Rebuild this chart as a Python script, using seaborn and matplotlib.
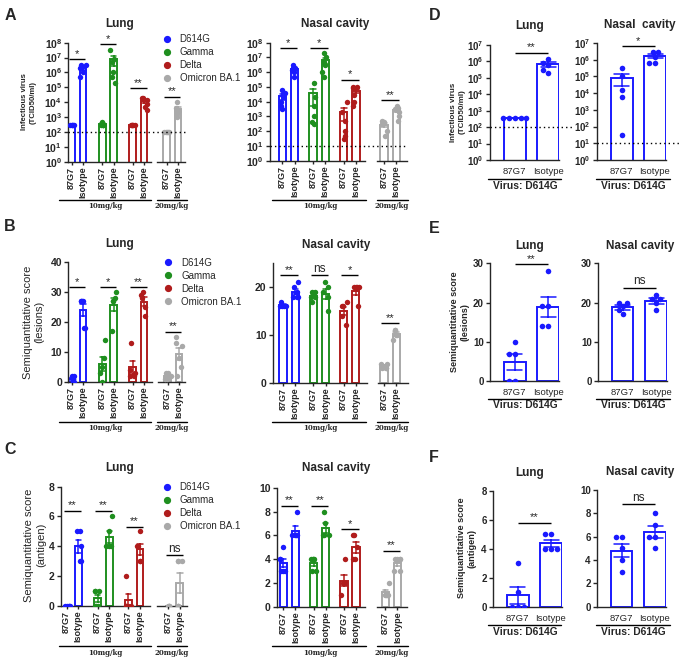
import warnings
import numpy as np
import pandas as pd
import matplotlib
matplotlib.use("Agg")
import matplotlib.pyplot as plt
import matplotlib.transforms as mtransforms
from matplotlib.lines import Line2D
from matplotlib.ticker import NullLocator
import seaborn as sns

warnings.filterwarnings("ignore")

# ------------------------------------------------------------------ data
VARIANTS = ["D614G", "Gamma", "Delta", "Omicron BA.1"]
TREATMENTS = ["87G7", "Isotype"]
DOSES = ["10mg/kg", "20mg/kg"]

# Panel A: infectious virus (TCID50/ml); one list per variant (D614G, Gamma, Delta, Omicron BA.1)
A_LUNG_87G7 = [[316, 316, 316, 316, 316], [500, 316, 316, 316, 316],
               [316, 316, 316, 316, 316], [100, 100, 100, 100, 100]]
A_LUNG_ISO = [[3e6, 3e6, 2.5e6, 2e6, 1e6, 5e5], [3e7, 8e6, 5e6, 1e6, 5e5, 2e5],
              [2e4, 2e4, 1.5e4, 8e3, 5e3, 3e3], [1e4, 4e3, 3e3, 2.5e3, 1.5e3, 1e3]]
A_LUNG_SIG = ["*", "*", "**", "**"]
A_LUNG_SIG_Y = [7.9e6, 8e7, 8.5e4, 2.3e4]

A_NASAL_87G7 = [[6e4, 4e4, 2e4, 1e4, 5e3, 3e3], [2e5, 2e4, 5e3, 1e3, 4e2, 3e2],
                [1e4, 2e3, 5e2, 1e2, 50, 30], [5e2, 4e2, 3e2, 1e2, 50]]
A_NASAL_ISO = [[3e6, 2e6, 2e6, 1.5e6, 1e6, 5e5], [2e7, 1e7, 5e6, 3e6, 1e6, 5e5],
               [1e5, 1e5, 8e4, 3e4, 1e4, 5e3], [5e3, 4e3, 3e3, 2e3, 1e3, 5e2]]
A_NASAL_SIG = ["*", "*", "*", "**"]
A_NASAL_SIG_Y = [4.2e7, 4.2e7, 3e5, 1.3e4]

# Panel B: semiquantitative score (lesions)
B_LUNG_87G7 = [[2, 2, 1, 1, 0, 0], [14, 8, 5, 3, 0], [13, 4, 3, 2, 2], [3, 3, 2, 2, 1, 1]]
B_LUNG_ISO = [[27, 27, 27, 27, 18, 18], [30, 28, 27, 27, 17], [30, 29, 28, 25, 22],
              [15, 13, 12, 8, 5, 2]]
B_LUNG_SIG = ["*", "*", "**", "**"]
B_LUNG_SIG_Y = [31.7, 31.7, 31.7, 16.7]

B_NASAL_87G7 = [[17, 16, 16, 16, 16], [19, 19, 18, 18, 17], [17, 16, 16, 14, 12], [4, 4, 3, 3, 3]]
B_NASAL_ISO = [[21, 20, 19, 18, 18, 18], [21, 20, 19, 18, 15], [20, 20, 20, 20, 16],
               [11, 11, 10, 10, 9]]
B_NASAL_SIG = ["**", "ns", "*", "**"]
B_NASAL_SIG_Y = [22.5, 22.5, 22.5, 12.4]

# Panel C: semiquantitative score (antigen)
C_LUNG_87G7 = [[0, 0, 0, 0, 0], [1, 1, 1, 0, 0, 0], [2, 0, 0, 0, 0], [0, 0, 0, 0]]
C_LUNG_ISO = [[5, 5, 4, 3, 3], [6, 5, 4, 4, 4], [5, 4, 4, 3, 3], [3, 3, 3, 0, 0, 0]]
C_LUNG_SIG = ["**", "**", "**", "ns"]
C_LUNG_SIG_Y = [6.4, 6.4, 5.3, 3.4]

C_NASAL_87G7 = [[5, 4, 4, 3, 3, 3], [4, 4, 4, 4, 3, 3], [4, 2, 2, 1, 2], [2, 1, 1, 1, 1]]
C_NASAL_ISO = [[8, 6, 6, 6, 6], [8, 7, 6, 6, 6], [6, 6, 5, 4, 4], [4, 4, 4, 4, 3, 3]]
C_NASAL_SIG = ["**", "**", "*", "**"]
C_NASAL_SIG_Y = [8.5, 8.5, 6.5, 4.7]

# Panels D-F: D614G only (87G7, Isotype)
D_LUNG = [[350, 350, 350, 350, 350], [1.5e6, 8e5, 6e5, 3e5, 2e5]]
D_NASAL = [[3e5, 1e5, 1.5e4, 6e3, 30], [3e6, 3e6, 1.5e6, 6e5, 6e5]]
E_LUNG = [[10, 7, 7, 0, 0], [28, 19, 19, 14, 14]]
E_NASAL = [[20, 20, 19, 18, 17], [22, 21, 21, 20, 18]]
F_LUNG = [[3, 1, 0, 0, 0], [5, 5, 4, 4, 4]]
F_NASAL = [[6, 6, 5, 4, 3], [8, 7, 6, 6, 5]]
DEF_SIG = ["**", "*", "**", "ns", "**", "ns"]
DEF_SIG_Y = [3.4e6, 6.3e6, 29.7, 23.8, 5.8, 8.8]

COLORS = {"D614G": "#1a1aff", "Gamma": "#1f8f1f", "Delta": "#b01c1c", "Omicron BA.1": "#a9a9a9"}

# ------------------------------------------------------------------ style
sns.set_theme(style="ticks")
plt.rcParams["font.family"] = ["Liberation Sans", "DejaVu Sans"]
plt.rcParams["mathtext.fontset"] = "custom"
plt.rcParams["mathtext.rm"] = "Liberation Sans"
plt.rcParams["mathtext.bf"] = "Liberation Sans:bold"
plt.rcParams["axes.linewidth"] = 1.0
plt.rcParams["xtick.major.width"] = 1.0
plt.rcParams["ytick.major.width"] = 1.0

W, H = 691, 666
fig = plt.figure(figsize=(W / 100, H / 100), dpi=100)
np.random.seed(3)


def frect(x0, x1, yt, yb):
    return [x0 / W, 1 - yb / H, (x1 - x0) / W, (yb - yt) / H]


def fx(x):
    return x / W


def fy(y):
    return 1 - y / H


def hline_fig(x0, x1, y, lw=1.0):
    fig.add_artist(Line2D([fx(x0), fx(x1)], [fy(y), fy(y)], color="black", lw=lw,
                          transform=fig.transFigure))


def ftext(x, y, s, **kw):
    kw.setdefault("ha", "center")
    kw.setdefault("va", "center")
    fig.text(fx(x), fy(y), s, **kw)


def add_sig(ax, x0, x1, y, txt):
    ax.plot([x0, x1], [y, y], color="black", lw=1.0, clip_on=False, solid_capstyle="butt")
    fs = 8.5 if txt == "ns" else 8
    ax.annotate(txt, xy=((x0 + x1) / 2, y), xytext=(0, 0.3), textcoords="offset points",
                ha="center", va="bottom", fontsize=fs, annotation_clip=False)


def draw_bars(ax, sub, color, width, jitter, swarm=False):
    sns.barplot(data=sub, x="pos", y="value", native_scale=True, color=color, fill=False,
                width=width, linewidth=1.4, errorbar="se", capsize=0.45,
                err_kws={"color": color, "linewidth": 1.1}, ax=ax)
    if swarm:
        sns.swarmplot(data=sub, x="pos", y="value", native_scale=True, color=color, size=4.0,
                      linewidth=0, ax=ax, zorder=3)
    else:
        sns.stripplot(data=sub, x="pos", y="value", native_scale=True, color=color, size=3.9,
                      jitter=jitter, linewidth=0, ax=ax, zorder=3)


def style_y(ax, log, ylim, yticks, fs):
    if log:
        ax.set_yscale("log")
        ax.set_yticks(yticks)
        ax.set_yticklabels([r"$\mathbf{10^{%d}}$" % int(round(np.log10(t))) for t in yticks])
        ax.yaxis.set_minor_locator(NullLocator())
    else:
        ax.set_yticks(yticks)
        ax.set_yticklabels([str(t) for t in yticks])
    ax.set_ylim(*ylim)
    for lab in ax.get_yticklabels():
        lab.set_fontweight("bold")
        lab.set_fontsize(fs)


def variant_panel(main_r, omi_r, offsets, main_xlim, omi_xlim, v87, viso, log, ylim, yticks,
                  sig_txt, sig_y, lod=None):
    ax = fig.add_axes(frect(*main_r))
    axo = fig.add_axes(frect(*omi_r))
    rows = []
    for vi, v in enumerate(VARIANTS):
        base = offsets[vi] if vi < 3 else 0.0
        for ti, vals in enumerate([v87[vi], viso[vi]]):
            for val in vals:
                rows.append({"variant": v, "treatment": TREATMENTS[ti], "value": val,
                             "pos": base + ti})
    df = pd.DataFrame(rows)
    for vi, v in enumerate(VARIANTS):
        target = ax if vi < 3 else axo
        draw_bars(target, df[df["variant"] == v], COLORS[v], 0.6, 0.28)
    for a, xl in ((ax, main_xlim), (axo, omi_xlim)):
        style_y(a, log, ylim, yticks, 7.5)
        a.set_xlim(*xl)
        a.set_xlabel("")
        a.set_ylabel("")
        a.spines[["top", "right"]].set_visible(False)
        a.tick_params(axis="x", length=2.5, pad=1)
        a.tick_params(axis="y", length=3, pad=1.5)
    ax.set_xticks([offsets[i] + t for i in range(3) for t in (0, 1)])
    ax.set_xticklabels(TREATMENTS * 3, rotation=90, fontsize=6.5, fontweight="bold")
    axo.set_xticks([0, 1])
    axo.set_xticklabels(TREATMENTS, rotation=90, fontsize=6.5, fontweight="bold")
    axo.spines["left"].set_visible(False)
    axo.tick_params(axis="y", which="both", left=False, labelleft=False)
    for vi in range(4):
        target = ax if vi < 3 else axo
        base = offsets[vi] if vi < 3 else 0.0
        add_sig(target, base - 0.22, base + 1.22, sig_y[vi], sig_txt[vi])
    if lod is not None:
        tr = mtransforms.blended_transform_factory(fig.transFigure, ax.transData)
        fig.add_artist(Line2D([fx(main_r[0]), fx(omi_r[1])], [lod, lod], transform=tr,
                              color="black", lw=1.0, ls=(0, (1, 2.2))))
    return ax, axo


def d614g_panel(rect, vals, log, ylim, yticks, sig_txt, sig_y, lod=None):
    ax = fig.add_axes(frect(*rect))
    rows = []
    for ti, vs in enumerate(vals):
        for val in vs:
            rows.append({"treatment": TREATMENTS[ti], "value": val, "pos": ti})
    df = pd.DataFrame(rows)
    draw_bars(ax, df, COLORS["D614G"], 0.65, 0.17, swarm=True)
    style_y(ax, log, ylim, yticks, 7)
    ax.set_xlim(-0.74, 1.33)
    ax.set_xlabel("")
    ax.set_ylabel("")
    ax.set_xticks([0, 1])
    ax.set_xticklabels(TREATMENTS, fontsize=6.8)
    ax.spines[["top", "right"]].set_visible(False)
    ax.tick_params(axis="x", length=0, pad=5)
    ax.tick_params(axis="y", length=3, pad=1.5)
    add_sig(ax, 0, 1, sig_y, sig_txt)
    if lod is not None:
        tr = mtransforms.blended_transform_factory(fig.transFigure, ax.transData)
        fig.add_artist(Line2D([fx(rect[0]), fx(rect[1] + 14)], [lod, lod], transform=tr,
                              color="black", lw=1.0, ls=(0, (1, 2.2))))
    return ax


LOG_TICKS_8 = [10.0 ** k for k in range(0, 9)]
LOG_TICKS_7 = [10.0 ** k for k in range(0, 8)]

# ------------------------------------------------------------------ panel A
variant_panel((68.3, 150.7, 42.7, 161.7), (156.7, 185, 42.7, 161.7), [0, 2.7, 5.4],
              (-0.3, 6.99), (-0.88, 1.62), A_LUNG_87G7, A_LUNG_ISO, True, (1, 1e8),
              LOG_TICKS_8, A_LUNG_SIG, A_LUNG_SIG_Y, lod=100)
variant_panel((270, 365, 42.7, 160.7), (376.7, 406.7, 42.7, 160.7), [0, 2.5, 5.0],
              (-1.0, 6.73), (-0.6, 1.85), A_NASAL_87G7, A_NASAL_ISO, True, (1, 1e8),
              LOG_TICKS_8, A_NASAL_SIG, A_NASAL_SIG_Y, lod=10)

# ------------------------------------------------------------------ panel B
variant_panel((68.3, 151.7, 262.3, 381.7), (158.3, 185, 262.3, 381.7), [0, 2.7, 5.4],
              (-0.3, 7.08), (-0.83, 1.53), B_LUNG_87G7, B_LUNG_ISO, False, (0, 40),
              [0, 10, 20, 30, 40], B_LUNG_SIG, B_LUNG_SIG_Y)
variant_panel((272.7, 366.7, 263.3, 382.7), (378.3, 408.3, 263.3, 382.7), [0, 2.5, 5.0],
              (-0.86, 6.9), (-0.46, 1.98), B_NASAL_87G7, B_NASAL_ISO, False, (0, 25),
              [0, 10, 20], B_NASAL_SIG, B_NASAL_SIG_Y)

# ------------------------------------------------------------------ panel C
variant_panel((60.7, 150, 486.7, 605.7), (157.3, 186.7, 486.7, 605.7), [0, 2.65, 5.3],
              (-0.52, 7.16), (-0.95, 1.58), C_LUNG_87G7, C_LUNG_ISO, False, (0, 8),
              [0, 2, 4, 6, 8], C_LUNG_SIG, C_LUNG_SIG_Y)
variant_panel((276.7, 365, 487.7, 606.7), (376.7, 406.7, 487.7, 606.7), [0, 2.5, 5.0],
              (-0.55, 6.74), (-0.71, 1.77), C_NASAL_87G7, C_NASAL_ISO, False, (0, 10),
              [0, 2, 4, 6, 8, 10], C_NASAL_SIG, C_NASAL_SIG_Y)

# ------------------------------------------------------------------ panels D-F
d614g_panel((490, 559, 45, 160), D_LUNG, True, (1, 1e7), LOG_TICKS_7, DEF_SIG[0], DEF_SIG_Y[0], lod=100)
d614g_panel((597, 666, 43, 160), D_NASAL, True, (1, 1e7), LOG_TICKS_7, DEF_SIG[1], DEF_SIG_Y[1], lod=10)
d614g_panel((490, 559, 263.3, 381), E_LUNG, False, (0, 30), [0, 10, 20, 30], DEF_SIG[2], DEF_SIG_Y[2])
d614g_panel((598, 667, 263.3, 381), E_NASAL, False, (0, 30), [0, 10, 20, 30], DEF_SIG[3], DEF_SIG_Y[3])
d614g_panel((493, 562, 491, 606.7), F_LUNG, False, (0, 8), [0, 2, 4, 6, 8], DEF_SIG[4], DEF_SIG_Y[4])
d614g_panel((597, 666, 490, 606.7), F_NASAL, False, (0, 10), [0, 2, 4, 6, 8, 10], DEF_SIG[5], DEF_SIG_Y[5])

# ------------------------------------------------------------------ annotations
# panel letters
for letter, (x, y) in {"A": (10, 15), "B": (10, 227), "C": (10, 450),
                       "D": (435, 15), "E": (434, 228), "F": (434, 458)}.items():
    ftext(x, y, letter, fontsize=11.5, fontweight="bold")

# titles
for (x, y, t) in [(120, 24, "Lung"), (335, 24, "Nasal cavity"), (530, 26, "Lung"), (640, 25, "Nasal  cavity"),
                  (120, 243.5, "Lung"), (336, 245, "Nasal cavity"), (530, 246, "Lung"), (640, 246, "Nasal cavity"),
                  (120, 467.5, "Lung"), (336, 468.5, "Nasal cavity"), (530, 473, "Lung"), (640, 471.5, "Nasal cavity")]:
    ftext(x, y, t, fontsize=8.5, fontweight="bold")

# y labels
ftext(28.7, 102, "Infectious virus\n(TCID50/ml)", rotation=90, fontsize=5.6, fontweight="bold", linespacing=1.25)
ftext(33.5, 322, "Semiquantitative score\n(lesions)", rotation=90, fontsize=8, linespacing=1.2)
ftext(35, 545, "Semiquantitative score\n(antigen)", rotation=90, fontsize=8, linespacing=1.2)
ftext(457.5, 112, "Infectious virus\n(TCID50/ml)", rotation=90, fontsize=5.8, fontweight="bold", linespacing=1.25)
ftext(460, 322, "Semiquantitative score\n(lesions)", rotation=90, fontsize=6.6, fontweight="bold", linespacing=1.25)
ftext(466.5, 548, "Semiquantitative score\n(antigen)", rotation=90, fontsize=6.6, fontweight="bold", linespacing=1.25)

# dose brackets under left/middle panels
for (ly, ty) in [(200, 206.5), (421.7, 428), (646, 652.7)]:
    hline_fig(59, 151, ly)
    hline_fig(157, 187, ly)
    ftext(105, ty, DOSES[0], fontsize=5, fontweight="bold", family="DejaVu Serif")
    ftext(172, ty, DOSES[1], fontsize=5, fontweight="bold", family="DejaVu Serif")
    hline_fig(272, 366, ly)
    hline_fig(376.7, 407.5, ly)
    ftext(320, ty, DOSES[0], fontsize=5, fontweight="bold", family="DejaVu Serif")
    ftext(392, ty, DOSES[1], fontsize=5, fontweight="bold", family="DejaVu Serif")

# virus brackets under right panels
for (ly, ty) in [(179, 185.5), (399, 405.5), (625, 631.7)]:
    hline_fig(488, 561, ly)
    hline_fig(596, 670, ly)
    ftext(525, ty, "Virus: D614G", fontsize=7.4, fontweight="bold")
    ftext(633, ty, "Virus: D614G", fontsize=7.4, fontweight="bold")

# legends
handles = [Line2D([], [], ls="none", marker="o", markersize=4.2, color=COLORS[v]) for v in VARIANTS]
for (x, y) in [(163, 34), (164.5, 257.5), (163, 482)]:
    fig.legend(handles, VARIANTS, loc="upper left", bbox_to_anchor=(fx(x), fy(y)), frameon=False,
               fontsize=7, borderpad=0, borderaxespad=0, handlelength=0.8, handletextpad=0.9,
               labelspacing=0.32)

fig.savefig("out.png", dpi=100)
